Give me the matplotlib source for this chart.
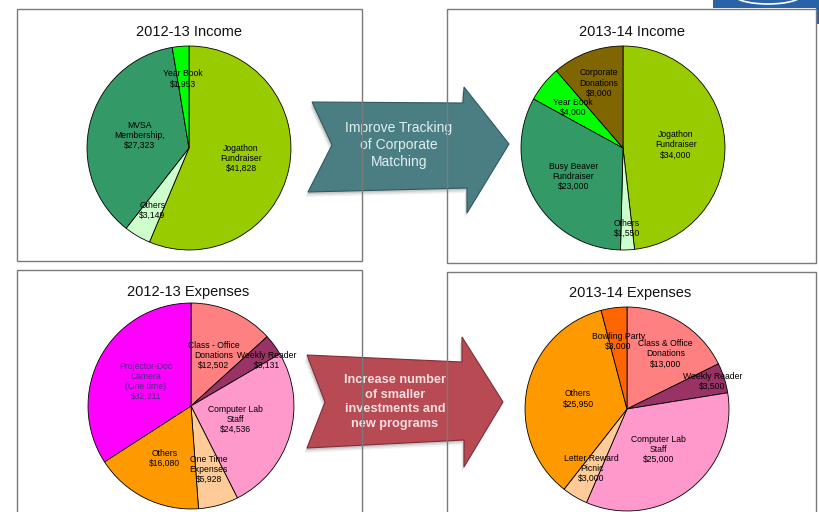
import numpy as np
import matplotlib
matplotlib.use("Agg")
import matplotlib.pyplot as plt
from matplotlib.patches import Polygon, Rectangle, Arc

plt.rcParams['font.family'] = ['Liberation Sans', 'DejaVu Sans']

# ---- data ----
inc12_names = ["Jogathon\nFundraiser", "Others", "MVSA\nMembership,", "Year Book"]
inc12_values = [41828, 3149, 27323, 1953]
inc12_colors = ["#99CC00", "#CCFFCC", "#339966", "#00FF00"]

inc13_names = ["Jogathon\nFundraiser", "Others", "Busy Beaver\nFundraiser", "Year Book",
               "Corporate\nDonations"]
inc13_values = [34000, 1550, 23000, 4000, 8000]
inc13_colors = ["#99CC00", "#CCFFCC", "#339966", "#00FF00", "#806600"]

exp12_names = ["Class - Office\nDonations", "Weekly Reader", "Computer Lab\nStaff",
               "One Time\nExpenses", "Others", "Projector-Doc\nCamera\n(One time)"]
exp12_values = [12502, 3131, 24536, 5928, 16080, 32211]
exp12_colors = ["#FF8080", "#993366", "#FF99CC", "#FFCC99", "#FF9900", "#FF00FF"]

exp13_names = ["Class & Office\nDonations", "Weekly Reader", "Computer Lab\nStaff",
               "Letter Reward\nPicnic", "Others", "Bowling Party"]
exp13_values = [13000, 3500, 25000, 3000, 25950, 3000]
exp13_colors = ["#FF8080", "#993366", "#FF99CC", "#FFCC99", "#FF9900", "#FF6600"]

W, H = 819, 512
fig = plt.figure(figsize=(W / 100, H / 100), dpi=100)
fig.patch.set_facecolor("white")

# background axes in pixel coordinates
bg = fig.add_axes([0, 0, 1, 1])
bg.set_xlim(0, W)
bg.set_ylim(H, 0)
bg.axis("off")

# logo fragment in the top-right corner
bg.add_patch(Rectangle((713, 0), 106, 8, facecolor="#2A62A8", edgecolor="none", zorder=1))
bg.add_patch(Rectangle((816, 0), 3, 24, facecolor="#2A62A8", edgecolor="none", zorder=1))
bg.add_patch(Arc((768, -6), 70, 20, theta1=0, theta2=180, color="white", lw=1.2, zorder=2))


def draw_arrow(pts, face, edge, text, tcolor, bold, tpos):
    # soft shadow
    for k, a in [(5, 0.08), (3.5, 0.12), (2, 0.18)]:
        sh = [(x - k * 0.5, y + k) for x, y in pts]
        bg.add_patch(Polygon(sh, closed=True, facecolor="#555555", edgecolor="none",
                             alpha=a, zorder=2))
    bg.add_patch(Polygon(pts, closed=True, facecolor=face, edgecolor=edge, lw=0.8, zorder=3))
    bg.text(tpos[0], tpos[1], text, ha="center", va="center",
            color=tcolor, fontsize=10 if not bold else 9.2,
            fontweight="bold" if bold else "normal", linespacing=1.3, zorder=4)


draw_arrow([(312, 102), (463, 103), (464, 87), (509, 144), (467, 213), (467, 188),
            (308, 192), (332, 145)],
           "#4A7E83", "#2E5A5F", "Improve Tracking\nof Corporate\nMatching", "#E2EFEF",
           False, (399, 145))
draw_arrow([(307, 355), (462, 362), (462, 337), (503, 402), (464, 467), (464, 440),
            (307, 448), (325, 402)],
           "#B84A53", "#7E2E36", "Increase number\nof smaller\ninvestments and\nnew programs",
           "#F4E0E0", True, (395, 402))

# panel boxes (drawn above arrows)
for (x0, y0, x1, y1) in [(17, 9, 362, 261), (447, 9, 816, 263),
                         (17, 270, 362, 530), (447, 272, 816, 530)]:
    bg.add_patch(Rectangle((x0, y0), x1 - x0, y1 - y0, fill=False,
                           edgecolor="#7A7A7A", lw=1.0, zorder=5))

# pie layout: centre, radius (px), title position, label (radius, angle shift) per slice
charts = [
    ("2012-13 Income", inc12_names, inc12_values, inc12_colors,
     (189, 148), 103, (189, 32), [(0.52, 0), (0.71, 0), (0.5, 0), (0.68, 0)]),
    ("2013-14 Income", inc13_names, inc13_values, inc13_colors,
     (623, 148), 103, (632, 32), [(0.52, 0), (0.79, 0), (0.56, 0), (0.63, 0), (0.68, 0)]),
    ("2012-13 Expenses", exp12_names, exp12_values, exp12_colors,
     (191, 406), 104, (188, 292),
     [(0.54, 0), (0.86, -5.5), (0.45, 0), (0.64, 0), (0.57, 0), (0.5, 0)]),
    ("2013-14 Expenses", exp13_names, exp13_values, exp13_colors,
     (627, 409), 103, (630, 293),
     [(0.66, -3), (0.88, 0), (0.5, 0), (0.68, 0), (0.49, 0), (0.67, 0)]),
]

for title, names, values, colors, (cx, cy), r, (tx, ty), lpos in charts:
    bg.text(tx, ty, title, ha="center", va="center", fontsize=10.5, color="#111111", zorder=6)
    ax = fig.add_axes([(cx - r) / W, 1 - (cy + r) / H, 2 * r / W, 2 * r / H])
    wedges, _ = ax.pie(values, colors=colors, startangle=90, counterclock=False, radius=1,
                       wedgeprops=dict(edgecolor="black", linewidth=0.6))
    ax.set_xlim(-1.01, 1.01)
    ax.set_ylim(-1.01, 1.01)
    ax.set_aspect("equal")
    ax.axis("off")
    for w, name, v, (lr, dth) in zip(wedges, names, values, lpos):
        mid = np.deg2rad((w.theta1 + w.theta2) / 2 + dth)
        tc = "#4B2A85" if name.startswith("Projector") else "black"
        ax.text(lr * np.cos(mid), lr * np.sin(mid), f"{name}\n${v:,}", ha="center",
                va="center", fontsize=6.2, color=tc, linespacing=1.15)

fig.savefig("out.png", dpi=100, facecolor="white")
